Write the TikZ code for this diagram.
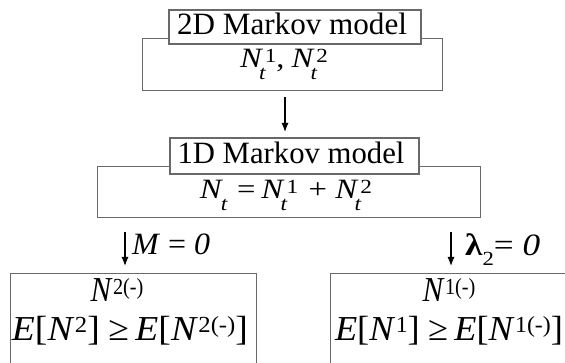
\documentclass[tikz,border=0pt]{standalone}
\usepackage{graphicx}
\usepackage{fontspec}
\setmainfont{Liberation Serif}
\usetikzlibrary{arrows.meta}
\definecolor{boxgray}{RGB}{105,105,105}
\newcommand{\scr}[1]{{\fontsize{20}{20}\selectfont #1}}
\newcommand{\bscr}[1]{{\fontsize{23}{23}\selectfont #1}}
\newcommand{\Nsubsup}[1]{\textit{N}\rlap{\kern-3.5pt\raisebox{-12pt}{\scr{\textit{t}}}}\kern1.5pt\raisebox{5.5pt}{\scr{#1}}}
\newcommand{\Nsub}{\textit{N}\kern-2pt\raisebox{-12pt}{\scr{\textit{t}}}}
\newcommand{\Nsup}[1]{\textit{N}\kern0.5pt\raisebox{7pt}{\bscr{#1}}}
\newcommand{\wbox}[2]{\resizebox{#1}{\height}{#2}}
\begin{document}
\begin{tikzpicture}[x=1pt,y=-1pt,
  outerbox/.style={draw=boxgray,line width=1.4pt,fill=white,inner sep=0pt,anchor=north west},
  titlebox/.style={draw=boxgray,line width=2pt,fill=white,inner sep=0pt,anchor=north west},
  txt/.style={inner sep=0pt,anchor=base,font=\fontsize{31}{36}\selectfont},
  mtxt/.style={inner sep=0pt,anchor=base,font=\fontsize{28}{30}\selectfont},
  bigtxt/.style={inner sep=0pt,anchor=base,font=\fontsize{35}{40}\selectfont},
  arr/.style={draw=black,line width=1.2pt,-{Latex[length=9pt,width=7pt]}}]
\useasboundingbox (0,0) rectangle (565,363);
\clip (0,0) rectangle (565,363);
% top block
\node[outerbox,minimum width=300pt,minimum height=52pt] (o1) at (142,38) {};
\node[titlebox,minimum width=252pt,minimum height=34pt] (t1) at (168,9) {};
\node[txt] (t1txt) at (292,35) {\wbox{230pt}{2D Markov model}};
\node[mtxt] (o1txt) at (284,68) {\wbox{88pt}{\Nsubsup{1},\hspace{6pt}\Nsubsup{2}}};
% middle block
\node[outerbox,minimum width=383pt,minimum height=51pt] (o2) at (97,166) {};
\node[titlebox,minimum width=249pt,minimum height=36pt] (t2) at (169,137) {};
\node[txt] (t2txt) at (291,164) {\wbox{227pt}{1D Markov model}};
\node[mtxt] (o2txt) at (286,199) {\wbox{172pt}{\Nsub\hspace{8pt}=\hspace{5pt}\Nsubsup{1}\hspace{9pt}+\hspace{7pt}\Nsubsup{2}}};
% bottom boxes
\node[outerbox,minimum width=246pt,minimum height=120pt] (b1) at (10,273) {};
\node[outerbox,minimum width=260pt,minimum height=120pt] (b2) at (330,273) {};
\node[bigtxt] (b1a) at (117,302) {\wbox{53pt}{\Nsup{2(-)}}};
\node[bigtxt] (b1b) at (130,340) {\wbox{236pt}{\textit{E}[\Nsup{2}]\hspace{8pt}≥\hspace{6pt}\textit{E}[\Nsup{2(-)}]}};
\node[bigtxt] (b2a) at (449,302) {\wbox{53pt}{\Nsup{1(-)}}};
\node[bigtxt] (b2b) at (449,340) {\wbox{228pt}{\textit{E}[\Nsup{1}]\hspace{8pt}≥\hspace{6pt}\textit{E}[\Nsup{1(-)}]}};
% arrows
\coordinate (a1) at (285,97);
\coordinate (a2) at (125,232);
\coordinate (a3) at (451,232);
\draw[arr,shorten >=5pt] (a1) -- (a1 |- t2.north);
\draw[arr,shorten >=7pt] (a2) -- (a2 |- b1.north);
\draw[arr,shorten >=7pt] (a3) -- (a3 |- b2.north);
% labels
\node[txt,anchor=base west] (l1) at (132,255) {\wbox{78pt}{\textit{M} = \textit{0}}};
\node[txt,anchor=base west] (l2) at (465,256) {\wbox{75pt}{\textbf{λ}\raisebox{-0.3em}{\scr{2}}= \textit{0}}};
\end{tikzpicture}
\end{document}
